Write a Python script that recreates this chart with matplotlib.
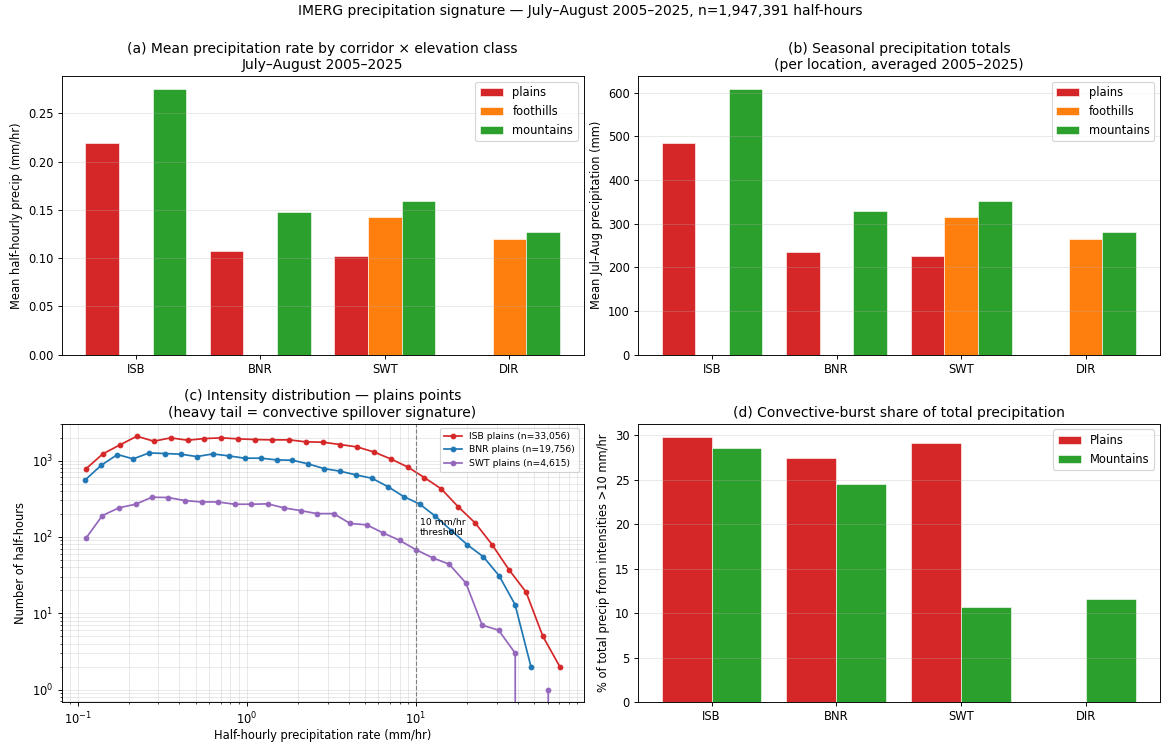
import numpy as np
import matplotlib
matplotlib.use("Agg")
import matplotlib.pyplot as plt

corridors = ["ISB", "BNR", "SWT", "DIR"]
classes = ["plains", "foothills", "mountains"]
class_colors = ["#d62728", "#ff7f0e", "#2ca02c"]

# (a) mean half-hourly rate, mm/hr  (nan = class not present)
rate_plains = [0.219, 0.107, 0.102, np.nan]
rate_foothills = [np.nan, np.nan, 0.143, 0.120]
rate_mountains = [0.275, 0.148, 0.159, 0.127]

# (b) seasonal totals, mm
tot_plains = [484, 236, 225, np.nan]
tot_foothills = [np.nan, np.nan, 316, 265]
tot_mountains = [608, 328, 351, 281]

# (c) intensity histograms, plains points (bin centres, counts)
isb_rate = [0.112, 0.141, 0.178, 0.224, 0.282, 0.355, 0.447, 0.562, 0.708, 0.891,
            1.12, 1.41, 1.78, 2.24, 2.82, 3.55, 4.47, 5.62, 7.08, 8.91,
            11.2, 14.1, 17.8, 22.4, 28.2, 35.5, 44.7, 56.2, 70.8]
isb_count = [778, 1223, 1604, 2083, 1792, 1982, 1846, 1941, 1982, 1923,
             1884, 1866, 1866, 1757, 1739, 1621, 1511, 1299, 1052, 826,
             599, 426, 247, 152, 79, 37, 19, 5, 2]

bnr_rate = [0.111, 0.138, 0.172, 0.213, 0.265, 0.329, 0.408, 0.507, 0.630, 0.782,
            0.971, 1.21, 1.50, 1.86, 2.31, 2.86, 3.56, 4.42, 5.48, 6.81,
            8.45, 10.5, 13.0, 16.2, 20.1, 25.0, 31.0, 38.5, 47.8]
bnr_count = [558, 868, 1199, 1052, 1259, 1236, 1211, 1128, 1222, 1151,
             1074, 1074, 1020, 1010, 903, 785, 725, 649, 587, 457,
             338, 270, 187, 121, 79, 55, 31, 13, 2]

swt_rate = [0.112, 0.140, 0.175, 0.220, 0.275, 0.344, 0.431, 0.540, 0.676, 0.846,
            1.06, 1.33, 1.66, 2.08, 2.60, 3.26, 4.08, 5.11, 6.39, 8.01,
            10.0, 12.6, 15.7, 19.7, 24.6, 30.8, 38.6, 48.3, 60.5]
swt_count = [96, 190, 240, 268, 331, 328, 299, 287, 287, 268,
             268, 271, 240, 221, 202, 202, 150, 144, 113, 90,
             68, 53, 44, 25, 7, 6, 3, 0, 1]

# (d) share of precip from >10 mm/hr
share_plains = [29.8, 27.4, 29.1, np.nan]
share_mountains = [28.6, 24.5, 10.7, 11.6]

fig, axs = plt.subplots(2, 2, figsize=(1161 / 83, 744 / 83), dpi=83)
fig.subplots_adjust(left=0.053, right=0.999, top=0.898, bottom=0.056,
                    wspace=0.104, hspace=0.247)
fig.suptitle("IMERG precipitation signature — July–August 2005–2025, n=1,947,391 half-hours",
             fontsize=12, y=0.995)

x = np.arange(len(corridors))
w = 0.27

ax = axs[0, 0]
for i, vals in enumerate([rate_plains, rate_foothills, rate_mountains]):
    ax.bar(x + (i - 1) * w, vals, w, color=class_colors[i], label=classes[i],
           edgecolor="white", linewidth=0.5)
ax.set_xticks(x)
ax.set_xticklabels(corridors)
ax.set_ylabel("Mean half-hourly precip (mm/hr)")
ax.set_title("(a) Mean precipitation rate by corridor × elevation class\nJuly–August 2005–2025")
ax.legend()
ax.grid(axis="y", alpha=0.3)

ax = axs[0, 1]
for i, vals in enumerate([tot_plains, tot_foothills, tot_mountains]):
    ax.bar(x + (i - 1) * w, vals, w, color=class_colors[i], label=classes[i],
           edgecolor="white", linewidth=0.5)
ax.set_xticks(x)
ax.set_xticklabels(corridors)
ax.set_ylabel("Mean Jul–Aug precipitation (mm)")
ax.set_title("(b) Seasonal precipitation totals\n(per location, averaged 2005–2025)")
ax.legend()
ax.grid(axis="y", alpha=0.3)

ax = axs[1, 0]
ax.plot(isb_rate, isb_count, "o-", color="#d62728", ms=4, lw=1.5, label="ISB plains (n=33,056)")
ax.plot(bnr_rate, bnr_count, "o-", color="#1f77b4", ms=4, lw=1.5, label="BNR plains (n=19,756)")
ax.plot(swt_rate, swt_count, "o-", color="#9467bd", ms=4, lw=1.5, label="SWT plains (n=4,615)")
ax.set_xscale("log")
ax.set_yscale("log")
ax.axvline(10, color="gray", ls="--", lw=1)
ax.text(10.5, 100, "10 mm/hr\nthreshold", fontsize=8, va="bottom")
ax.set_xlabel("Half-hourly precipitation rate (mm/hr)", labelpad=2)
ax.set_ylabel("Number of half-hours")
ax.set_title("(c) Intensity distribution — plains points\n(heavy tail = convective spillover signature)")
ax.legend(fontsize=8)
ax.grid(True, which="both", alpha=0.3)

ax = axs[1, 1]
w2 = 0.4
ax.bar(x - w2 / 2, share_plains, w2, color="#d62728", label="Plains", edgecolor="white", linewidth=0.5)
ax.bar(x + w2 / 2, share_mountains, w2, color="#2ca02c", label="Mountains", edgecolor="white", linewidth=0.5)
ax.set_xticks(x)
ax.set_xticklabels(corridors)
ax.set_ylabel("% of total precip from intensities >10 mm/hr")
ax.set_title("(d) Convective-burst share of total precipitation")
ax.legend()
ax.grid(axis="y", alpha=0.3)

fig.savefig("out.png", dpi=83)
